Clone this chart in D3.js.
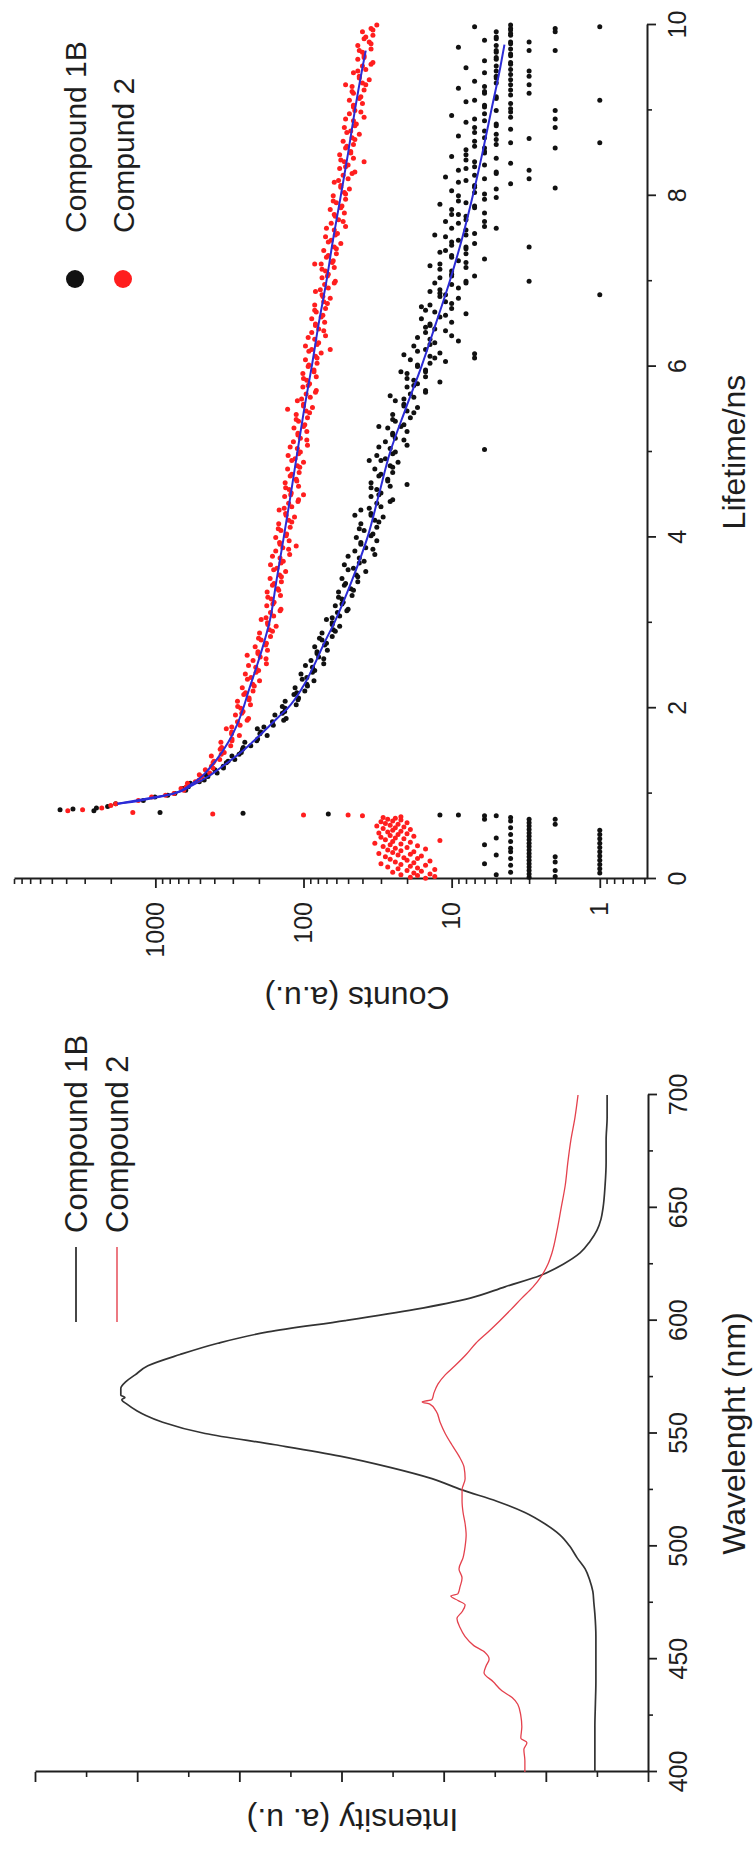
<!DOCTYPE html>
<html>
<head>
<meta charset="utf-8">
<script src="https://cdn.jsdelivr.net/npm/d3@7"></script>
<style>
  html, body { margin: 0; padding: 0; background: #fff; }
  svg { display: block; }
</style>
</head>
<body>
<svg id="fig" width="753" height="1854"></svg>
<script>
// ---------------- Emission spectra (wavelength nm, intensity a.u.) ----------------
const spectrum1B = [
  [400,0.104],[410,0.104],[420,0.104],[430,0.103],[440,0.102],[450,0.102],[460,0.102],[470,0.104],
  [475,0.106],[480,0.108],[485,0.114],[490,0.123],[495,0.139],[500,0.153],[505,0.172],[510,0.202],
  [515,0.241],[520,0.296],[525,0.364],[530,0.423],[535,0.505],[540,0.603],[545,0.730],[550,0.867],
  [555,0.950],[558,0.983],[560,1.000],[563,1.020],[565,1.030],[566,1.024],[567,1.032],[570,1.032],
  [573,1.022],[576,1.004],[580,0.979],[585,0.916],[590,0.842],[595,0.744],[600,0.593],[605,0.456],
  [610,0.348],[615,0.280],[620,0.211],[625,0.166],[630,0.133],[635,0.114],[640,0.100],[645,0.092],
  [650,0.088],[660,0.084],[670,0.082],[680,0.082],[690,0.080],[700,0.080]
];
const spectrum2 = [
  [400,0.241],[405,0.241],[410,0.243],[413,0.237],[415,0.249],[420,0.247],[425,0.249],[430,0.255],
  [433,0.266],[436,0.286],[440,0.303],[444,0.321],[447,0.317],[450,0.311],[453,0.319],[456,0.341],
  [460,0.358],[464,0.368],[468,0.374],[471,0.364],[474,0.358],[476,0.372],[478,0.386],[479,0.372],
  [482,0.368],[486,0.364],[490,0.370],[495,0.362],[500,0.358],[505,0.356],[510,0.358],[515,0.362],
  [520,0.364],[525,0.364],[530,0.358],[535,0.360],[540,0.370],[545,0.384],[550,0.397],[555,0.407],
  [560,0.415],[563,0.427],[564,0.442],[565,0.423],[568,0.419],[572,0.411],[576,0.397],[580,0.378],
  [585,0.356],[590,0.337],[595,0.313],[600,0.290],[605,0.268],[610,0.247],[615,0.225],[620,0.208],
  [625,0.196],[630,0.188],[640,0.178],[650,0.170],[660,0.162],[670,0.157],[680,0.151],[690,0.143],
  [700,0.137]
];
const waveTicks = [400, 450, 500, 550, 600, 650, 700];
const waveMinor = [425, 475, 525, 575, 625, 675];
const intensityTicks = [0, 0.2, 0.4, 0.6, 0.8, 1.0, 1.2];
const intensityMinor = [0.1, 0.3, 0.5, 0.7, 0.9, 1.1];
const spectrumLegend = ["Compound 1B", "Compound 2"];

// ---------------- Fluorescence decay (lifetime ns, counts) ----------------
const blackBackground = [
  [0.02,3],[0.06,3],[0.10,3],[0.14,3],[0.18,3],[0.22,3],[0.26,3],[0.30,3],[0.34,3],[0.38,3],[0.42,3],
  [0.46,3],[0.50,3],[0.54,3],[0.58,3],[0.62,3],[0.66,3],[0.70,3],
  [0.08,4],[0.16,4],[0.24,4],[0.32,4],[0.36,4],[0.44,4],[0.52,4],[0.60,4],[0.68,4],[0.72,4],
  [0.07,1],[0.12,1],[0.17,1],[0.22,1],[0.27,1],[0.32,1],[0.37,1],[0.42,1],[0.47,1],[0.52,1],[0.57,1],
  [0.03,2],[0.10,2],[0.20,2],[0.26,2],[0.64,2],[0.70,2],
  [0.05,5],[0.28,5],[0.48,5],[0.74,5],[0.18,6],[0.40,6],[0.70,6]
];
const blackRise = [
  [0.74,6],[0.75,9],[0.75,12],[0.76,68],[0.77,256],[0.78,930],[0.80,2600],[0.81,4400],[0.82,3600],
  [0.83,2500],[0.85,2100]
];
const blackDecay = [
  [0.88,1854],[0.92,1206],[0.96,1007],[1.00,739],[1.04,624],[1.08,599],[1.12,581],[1.16,468],[1.20,442],
  [1.24,383],[1.28,397],[1.32,348],[1.36,332],[1.40,291],[1.44,304],[1.48,263],[1.52,258],[1.56,227],
  [1.60,249],[1.64,204],[1.68,176],[1.72,194],[1.76,205],[1.80,160],[1.84,162],[1.88,131],[1.92,156],
  [1.96,134],[2.00,133],[2.04,112],[2.08,133],[2.12,108],[2.16,116],[2.20,98],[2.24,114],[2.28,95],
  [2.32,85],[2.36,95],[2.40,104],[2.44,84],[2.48,87],[2.52,73],[2.56,89],[2.60,79],[2.64,81],[2.68,69],
  [2.72,84],[2.76,70],[2.80,75],[2.84,64],[2.88,75],[2.92,63],[2.96,57],[3.00,64],[3.04,70],[3.08,57],
  [3.12,59],[3.16,50],[3.20,61],[3.24,54],[3.28,55],[3.32,47],[3.36,58],[3.40,48],[3.44,53],[3.48,43],
  [3.52,55],[3.56,44],[3.60,38],[3.64,46],[3.68,53],[3.72,39],[3.76,42],[3.80,33],[3.84,45],[3.88,38],
  [3.92,41],[3.96,32],[4.00,44],[4.04,34],[4.08,39],[4.12,32],[4.16,41],[4.20,33],[4.24,29],[4.28,35],
  [4.32,41],[4.36,30],[4.40,32],[4.44,25],[4.48,35],[4.52,30],[4.56,32],[4.60,26],[4.64,35],[4.68,27],
  [4.72,31],[4.76,25],[4.80,33],[4.84,26],[4.88,23],[4.92,28],[4.96,32],[5.00,24],[5.04,26],[5.08,20],
  [5.12,28],[5.16,24],[5.20,25],[5.24,20],[5.28,27],[5.32,21],[5.36,24],[5.40,19],[5.44,25],[5.48,20],
  [5.52,17],[5.56,21],[5.60,24],[5.64,18],[5.68,19],[5.72,15],[5.76,20],[5.80,17],[5.84,18],[5.88,15],
  [5.92,20],[5.96,15],[6.00,17],[6.04,14],[6.08,19],[6.12,14],[6.16,12],[6.20,15],[6.24,18],[6.28,13],
  [6.32,14],[6.36,10],[6.40,15],[6.44,13],[6.48,14],[6.52,10],[6.56,16],[6.60,11],[6.64,13],[6.68,10],
  [6.72,14],[6.76,11],[6.80,9],[6.84,11],[6.88,14],[6.92,9],[6.96,10],[7.00,8],[7.04,12],[7.08,10],
  [7.12,10],[7.16,8],[7.20,12],[7.24,9],[7.28,10],[7.32,8],[7.36,11],[7.40,8],[7.44,7],[7.48,9],
  [7.52,11],[7.56,7],[7.60,8],[7.64,6],[7.68,9],[7.72,8],[7.76,8],[7.80,6],[7.84,10],[7.88,7],[7.92,8],
  [7.96,6],[8.00,9],[8.04,7],[8.08,5],[8.12,7],[8.16,9],[8.20,6],[8.24,7],[8.28,5],[8.32,8],[8.36,6],
  [8.40,7],[8.44,5],[8.48,8],[8.52,6],[8.56,6],[8.60,5],[8.64,7],[8.68,6],[8.72,5],[8.76,6],[8.80,7],
  [8.84,5],[8.88,6],[8.92,4],[8.96,6],[9.00,5],[9.04,6],[9.08,4],[9.12,7],[9.16,5],[9.20,6],[9.24,4],
  [9.28,6],[9.32,5],[9.36,4],[9.40,5],[9.44,6],[9.48,4],[9.52,5],[9.56,4],[9.60,5],[9.64,4],[9.68,5],
  [9.72,4],[9.76,5],[9.80,4],[9.84,5],[9.88,4],[9.92,5],[9.96,4],[10.00,4]
];
// second read of the same decay, between the channels above
const blackDecayB = [
  [0.98,825],[1.06,650],[1.14,505],[1.22,455],[1.30,347],[1.38,323],[1.46,272],[1.54,255],[1.62,207],
  [1.70,197],[1.78,185],[1.86,136],[1.94,139],[2.02,139],[2.10,109],[2.18,111],[2.26,94],[2.34,102],
  [2.42,87],[2.50,97],[2.58,73],[2.66,81],[2.74,72],[2.82,78],[2.90,61],[2.98,64],[3.06,64],[3.14,51],
  [3.22,55],[3.30,58],[3.38,46],[3.46,52],[3.54,43],[3.62,50],[3.70,42],[3.78,50],[3.86,34],[3.94,41],
  [4.02,35],[4.10,42],[4.18,31],[4.26,35],[4.34,36],[4.42,26],[4.50,31],[4.58,35],[4.66,27],[4.74,30],
  [4.82,25],[4.90,30],[4.98,25],[5.06,31],[5.14,21],[5.22,25],[5.30,22],[5.38,25],[5.46,18],[5.54,21],
  [5.62,21],[5.70,15],[5.78,18],[5.86,20],[5.94,15],[6.02,17],[6.10,13],[6.18,17],[6.26,14],[6.34,17],
  [6.42,11],[6.50,14],[6.58,12],[6.66,15],[6.74,10],[6.82,12],[6.90,12],[6.98,8],[7.06,10],[7.14,12],
  [7.22,8],[7.30,10],[7.38,8],[7.46,10],[7.54,8],[7.62,10],[7.70,6],[7.78,9],[7.86,7],[7.94,9],[8.02,6],
  [8.10,7],[8.18,8],[8.26,5],[8.34,7],[8.42,8],[8.50,6],[8.58,7],[8.66,5],[8.74,7],[8.82,5],[8.90,7],
  [8.98,4],[9.06,6],[9.14,5],[9.22,6],[9.30,4],[9.38,5],[9.46,5],[9.54,4],[9.62,5],[9.70,5],[9.78,4],
  [9.86,5],[9.94,4]
];
const blackTail = [
  [4.26,45],[4.62,20],[4.90,36],[5.03,6],[5.30,31],[5.66,26],[5.82,12],[5.94,22],[6.06,11],[6.10,7],
  [6.14,21],[6.15,7],[6.30,9],[6.46,15],[6.62,8],[6.70,16],[6.86,12],[6.98,13],[7.06,7],[7.18,14],
  [7.26,6],[7.34,12],[7.42,10],[7.54,13],[7.62,5],[7.70,11],[7.78,10],[7.90,12],[7.98,5],[8.06,10],
  [8.14,4],[8.22,11],[8.30,9],[8.38,4],[8.46,10],[8.54,8],[8.62,4],[8.70,9],[8.78,4],[8.86,8],[8.94,10],
  [9.02,4],[9.10,8],[9.18,4],[9.26,9],[9.34,7],[9.42,4],[9.50,8],[9.58,6],[9.66,4],[9.74,9],[9.82,6],
  [9.90,4],[9.98,7]
];
const blackLow = [
  [6.84,1],[8.62,1],[9.12,1],[9.98,1],
  [8.09,2],[8.56,2],[8.80,2],[8.90,2],[9.00,2],[9.70,2],[9.92,2],[9.96,2],
  [7.00,3],[7.40,3],[8.20,3],[8.30,3],[8.67,3],[9.20,3],[9.30,3],[9.40,3],[9.46,3],[9.70,3],[9.80,3]
];
const redBackground = [
  [0.01,15],[0.02,19],[0.03,13],[0.04,17],[0.05,22],[0.06,14],[0.07,18],[0.08,25],[0.09,16],[0.10,20],
  [0.11,13],[0.12,23],[0.13,17],[0.14,27],[0.15,19],[0.16,15],[0.17,22],[0.18,30],[0.19,18],[0.20,24],
  [0.21,14],[0.22,20],[0.23,26],[0.24,17],[0.25,21],[0.26,28],[0.27,16],[0.28,23],[0.29,19],[0.30,31],
  [0.31,25],[0.32,18],[0.33,22],[0.34,27],[0.35,15],[0.36,24],[0.37,20],[0.38,29],[0.39,17],[0.40,26],
  [0.41,22],[0.42,33],[0.43,19],[0.44,25],[0.45,12],[0.46,28],[0.47,21],[0.48,24],[0.49,30],[0.50,18],
  [0.51,26],[0.52,23],[0.53,20],[0.54,31],[0.55,27],[0.56,22],[0.57,25],[0.58,19],[0.59,29],[0.60,24],
  [0.61,21],[0.62,32],[0.63,26],[0.64,23],[0.65,28],[0.66,20],[0.67,30],[0.68,25],[0.69,22],[0.70,27],
  [0.71,24],[0.72,29]
];
const redRise = [
  [0.73,22],[0.74,40],[0.75,50],[0.75,100],[0.76,410],[0.78,1420],[0.80,3900],[0.81,3100],[0.83,2300],
  [0.86,2000]
];
const redDecay = [
  [0.88,1850],[0.92,1303],[0.96,1060],[1.00,749],[1.04,643],[1.08,619],[1.12,607],[1.16,507],[1.20,487],
  [1.24,430],[1.28,460],[1.32,418],[1.36,408],[1.40,368],[1.44,419],[1.48,343],[1.52,365],[1.56,310],
  [1.60,361],[1.64,304],[1.68,271],[1.72,305],[1.76,332],[1.80,268],[1.84,279],[1.88,235],[1.92,288],
  [1.96,256],[2.00,265],[2.04,228],[2.08,279],[2.12,233],[2.16,253],[2.20,219],[2.24,259],[2.28,220],
  [2.32,198],[2.36,226],[2.40,247],[2.44,201],[2.48,210],[2.52,178],[2.56,219],[2.60,196],[2.64,203],
  [2.68,175],[2.72,212],[2.76,178],[2.80,193],[2.84,167],[2.88,198],[2.92,170],[2.96,153],[3.00,175],
  [3.04,193],[3.08,159],[3.12,167],[3.16,142],[3.20,177],[3.24,158],[3.28,165],[3.32,143],[3.36,176],
  [3.40,149],[3.44,162],[3.48,141],[3.52,168],[3.56,145],[3.60,132],[3.64,151],[3.68,167],[3.72,137],
  [3.76,144],[3.80,124],[3.84,154],[3.88,138],[3.92,144],[3.96,125],[4.00,154],[4.04,130],[4.08,142],
  [4.12,123],[4.16,147],[4.20,126],[4.24,115],[4.28,132],[4.32,146],[4.36,120],[4.40,126],[4.44,108],
  [4.48,134],[4.52,121],[4.56,125],[4.60,108],[4.64,133],[4.68,112],[4.72,123],[4.76,107],[4.80,128],
  [4.84,110],[4.88,100],[4.92,114],[4.96,127],[5.00,105],[5.04,110],[5.08,94],[5.12,117],[5.16,105],
  [5.20,109],[5.24,95],[5.28,116],[5.32,98],[5.36,108],[5.40,94],[5.44,112],[5.48,96],[5.52,87],
  [5.56,100],[5.60,110],[5.64,90],[5.68,96],[5.72,82],[5.76,101],[5.80,91],[5.84,95],[5.88,82],
  [5.92,101],[5.96,85],[6.00,93],[6.04,81],[6.08,97],[6.12,83],[6.16,76],[6.20,88],[6.24,97],[6.28,79],
  [6.32,84],[6.36,71],[6.40,88],[6.44,79],[6.48,83],[6.52,72],[6.56,88],[6.60,74],[6.64,82],[6.68,71],
  [6.72,84],[6.76,73],[6.80,66],[6.84,75],[6.88,83],[6.92,68],[6.96,72],[7.00,61],[7.04,75],[7.08,68],
  [7.12,71],[7.16,62],[7.20,76],[7.24,63],[7.28,70],[7.32,60],[7.36,73],[7.40,62],[7.44,56],[7.48,65],
  [7.52,71],[7.56,59],[7.60,62],[7.64,52],[7.68,65],[7.72,58],[7.76,61],[7.80,53],[7.84,66],[7.88,55],
  [7.92,60],[7.96,52],[8.00,63],[8.04,53],[8.08,49],[8.12,56],[8.16,62],[8.20,50],[8.24,54],[8.28,45],
  [8.32,57],[8.36,50],[8.40,53],[8.44,46],[8.48,57],[8.52,48],[8.56,52],[8.60,46],[8.64,54],[8.68,47],
  [8.72,42],[8.76,48],[8.80,53],[8.84,44],[8.88,46],[8.92,39],[8.96,49],[9.00,45],[9.04,46],[9.08,40],
  [9.12,49],[9.16,41],[9.20,46],[9.24,39],[9.28,47],[9.32,40],[9.36,36],[9.40,42],[9.44,46],[9.48,38],
  [9.52,40],[9.56,34],[9.60,43],[9.64,39],[9.68,40],[9.72,35],[9.76,43],[9.80,36],[9.84,39],[9.88,34],
  [9.92,40],[9.96,35],[10.00,32]
];
const redDecayB = [
  [0.98,854],[1.06,671],[1.14,537],[1.22,505],[1.30,409],[1.38,402],[1.46,359],[1.54,357],[1.62,304],
  [1.70,306],[1.78,305],[1.86,240],[1.94,261],[2.02,278],[2.10,233],[2.18,246],[2.26,215],[2.34,239],
  [2.42,209],[2.50,235],[2.58,179],[2.66,203],[2.74,180],[2.82,201],[2.90,162],[2.98,174],[3.06,179],
  [3.14,144],[3.22,161],[3.30,174],[3.38,147],[3.46,158],[3.54,141],[3.62,159],[3.70,142],[3.78,162],
  [3.86,126],[3.94,145],[4.02,131],[4.10,148],[4.18,120],[4.26,131],[4.34,135],[4.42,109],[4.50,122],
  [4.58,132],[4.66,111],[4.74,120],[4.82,106],[4.90,120],[4.98,108],[5.06,123],[5.14,95],[5.22,109],
  [5.30,100],[5.38,112],[5.46,91],[5.54,100],[5.62,103],[5.70,83],[5.78,93],[5.86,100],[5.94,85],
  [6.02,92],[6.10,81],[6.18,92],[6.26,81],[6.34,93],[6.42,73],[6.50,83],[6.58,76],[6.66,84],[6.74,69],
  [6.82,74],[6.90,77],[6.98,62],[7.06,69],[7.14,75],[7.22,64],[7.30,68],[7.38,60],[7.46,68],[7.54,61],
  [7.62,70],[7.70,54],[7.78,62],[7.86,56],[7.94,63],[8.02,52],[8.10,56],[8.18,58],[8.26,47],[8.34,52],
  [8.42,56],[8.50,48],[8.58,51],[8.66,45],[8.74,51],[8.82,45],[8.90,52],[8.98,41],[9.06,46],[9.14,42],
  [9.22,47],[9.30,38],[9.38,42],[9.46,43],[9.54,35],[9.62,39],[9.70,42],[9.78,35],[9.86,38],[9.94,34]
];
const redStray = [[2.62,240],[3.90,112],[4.50,100],[5.50,128],[6.20,66],[7.20,84],[8.40,39],[9.30,52]];

// Fitted decay curves
const blackFit = [
  [0.88,1800],[0.92,1250],[0.96,950],[1.00,750],[1.10,560],[1.20,440],[1.30,365],[1.40,305],[1.50,258],
  [1.60,222],[1.75,180],[1.90,147],[2.00,128],[2.25,101],[2.50,85],[2.75,73],[3.00,62],[3.50,47],
  [4.00,37],[4.50,31],[5.00,26],[5.50,20.5],[6.00,16],[6.50,12.8],[7.00,10.3],[7.50,8.5],[8.00,7.2],
  [8.50,6.2],[9.00,5.4],[9.50,4.7],[9.77,4.4]
];
const redFit = [
  [0.88,1800],[0.92,1350],[0.96,1000],[1.00,760],[1.10,585],[1.20,485],[1.30,430],[1.40,385],[1.60,322],
  [1.80,282],[2.00,255],[2.20,235],[2.50,206],[2.75,186],[3.00,170],[3.50,152],[4.00,136],[4.50,122],
  [5.00,110],[5.50,99],[6.00,88],[6.50,79],[7.00,70],[7.50,63],[8.00,56],[8.50,50],[9.00,45],[9.50,40],
  [9.70,38]
];
const lifeTicks = [0, 2, 4, 6, 8, 10];
const lifeMinor = [1, 3, 5, 7, 9];
const countTicks = [1, 10, 100, 1000];
const countMinor = [0.5,0.6,0.7,0.8,0.9,2,3,4,5,6,7,8,9,20,30,40,50,60,70,80,90,
                    200,300,400,500,600,700,800,900,2000,3000,4000,5000,6000,7000,8000,9000];
const decayLegend = ["Compound 1B", "Compund 2"];

// ---------------- Drawing ----------------
const FONT = '"Liberation Sans", Arial, Helvetica, sans-serif';
const INK = "#1e1e1e";
const svg = d3.select("#fig");
// The figure is composed in landscape (1854 x 753) and turned a quarter turn
// anticlockwise onto the portrait page.
const FW = 1854;
const g = svg.append("g").attr("transform", `translate(0,${FW}) rotate(-90)`);

function styleAxis(sel, labelSize) {
  sel.attr("font-family", FONT).attr("font-size", labelSize);
  sel.select(".domain").attr("stroke", INK).attr("stroke-width", 2);
  sel.selectAll(".tick line").attr("stroke", INK).attr("stroke-width", 1.8);
  sel.selectAll(".tick text").attr("fill", INK);
}
function minorAxis(parent, axis, transform) {
  const a = parent.append("g").attr("transform", transform).call(axis);
  a.select(".domain").remove();
  a.selectAll(".tick line").attr("stroke", INK).attr("stroke-width", 1.6);
  a.selectAll(".tick text").remove();
  return a;
}

// ---- Left panel: emission spectra ----
const xWave = d3.scaleLinear().domain([400, 700]).range([82, 759]);
const yInt = d3.scaleLinear().domain([0, 1.2]).range([648, 35]);

const spec = g.append("g");
spec.append("g").attr("transform", `translate(0,${yInt(0)})`)
  .call(d3.axisBottom(xWave).tickValues(waveTicks).tickFormat(d3.format("d"))
        .tickSize(9).tickPadding(12).tickSizeOuter(0))
  .call(s => styleAxis(s, 25));
minorAxis(spec, d3.axisBottom(xWave).tickValues(waveMinor).tickSize(5), `translate(0,${yInt(0)})`);
spec.append("g").attr("transform", `translate(${xWave(400)},0)`)
  .call(d3.axisLeft(yInt).tickValues(intensityTicks).tickFormat("").tickSize(10).tickSizeOuter(0))
  .call(s => styleAxis(s, 25));
minorAxis(spec, d3.axisLeft(yInt).tickValues(intensityMinor).tickSize(5), `translate(${xWave(400)},0)`);

const specLine = d3.line().x(d => xWave(d[0])).y(d => yInt(d[1])).curve(d3.curveMonotoneX);
spec.append("path").datum(spectrum1B).attr("d", specLine)
  .attr("fill", "none").attr("stroke", "#333").attr("stroke-width", 1.7);
spec.append("path").datum(spectrum2).attr("d", specLine)
  .attr("fill", "none").attr("stroke", "#e4414d").attr("stroke-width", 1.3);

spec.append("text").attr("x", (xWave(400) + xWave(700)) / 2).attr("y", 745)
  .attr("text-anchor", "middle").attr("font-family", FONT).attr("font-size", 32).attr("fill", INK)
  .text("Wavelenght (nm)");
spec.append("text").attr("transform", `translate(45,${(yInt(0) + yInt(1.2)) / 2 + 11}) rotate(-90)`)
  .attr("text-anchor", "middle").attr("font-family", FONT).attr("font-size", 32).attr("fill", INK)
  .text("Intensity (a. u.)");

const specLegendColors = ["#333", "#e4414d"];
const specLeg = spec.append("g");
spectrumLegend.forEach((name, i) => {
  const yy = 76 + i * 41;
  specLeg.append("line").attr("x1", 532).attr("x2", 607).attr("y1", yy).attr("y2", yy)
    .attr("stroke", specLegendColors[i]).attr("stroke-width", i ? 1.4 : 1.8);
  specLeg.append("text").attr("x", 621).attr("y", yy).attr("dy", "0.36em")
    .attr("font-family", FONT).attr("font-size", 31).attr("fill", INK).text(name);
});

// ---- Right panel: fluorescence decay ----
const xLife = d3.scaleLinear().domain([0, 10]).range([975, 1829]);
const yCount = d3.scaleLog().domain([0.48, 9000]).range([647, 14]);

const dec = g.append("g");
dec.append("g").attr("transform", `translate(0,${yCount(0.48)})`)
  .call(d3.axisBottom(xLife).tickValues(lifeTicks).tickFormat(d3.format("d"))
        .tickSize(9).tickPadding(12).tickSizeOuter(0))
  .call(s => styleAxis(s, 25));
minorAxis(dec, d3.axisBottom(xLife).tickValues(lifeMinor).tickSize(5), `translate(0,${yCount(0.48)})`);
dec.append("g").attr("transform", `translate(${xLife(0)},0)`)
  .call(d3.axisLeft(yCount).tickValues(countTicks).tickFormat(d3.format("d"))
        .tickSize(9).tickPadding(14).tickSizeOuter(0))
  .call(s => styleAxis(s, 25));
minorAxis(dec, d3.axisLeft(yCount).tickValues(countMinor).tickSize(5), `translate(${xLife(0)},0)`);

const dotR = 2.5;
const blackSets = [blackBackground, blackRise, blackDecay, blackDecayB, blackTail, blackLow];
const redSets = [redBackground, redRise, redDecay, redDecayB, redStray];
const dots = dec.append("g");
blackSets.forEach(set => {
  dots.append("g").selectAll("circle").data(set).join("circle")
    .attr("cx", d => xLife(d[0])).attr("cy", d => yCount(d[1])).attr("r", dotR).attr("fill", "#111");
});
redSets.forEach(set => {
  dots.append("g").selectAll("circle").data(set).join("circle")
    .attr("cx", d => xLife(d[0])).attr("cy", d => yCount(d[1])).attr("r", dotR).attr("fill", "#ff1e1e");
});

const fitLine = d3.line().x(d => xLife(d[0])).y(d => yCount(d[1])).curve(d3.curveMonotoneX);
[blackFit, redFit].forEach(f => {
  dec.append("path").datum(f).attr("d", fitLine)
    .attr("fill", "none").attr("stroke", "#2b2bd6").attr("stroke-width", 2);
});

dec.append("text").attr("x", (xLife(0) + xLife(10)) / 2).attr("y", 745)
  .attr("text-anchor", "middle").attr("font-family", FONT).attr("font-size", 32).attr("fill", INK)
  .text("Lifetime/ns");
dec.append("text").attr("transform", `translate(867,357) rotate(-90)`)
  .attr("text-anchor", "middle").attr("font-family", FONT).attr("font-size", 32).attr("fill", INK)
  .text("Counts (a.u.)");

const decLegendColors = ["#111", "#ff1e1e"];
decayLegend.forEach((name, i) => {
  const yy = 75 + i * 48;
  dec.append("circle").attr("cx", 1575).attr("cy", yy).attr("r", 9).attr("fill", decLegendColors[i]);
  dec.append("text").attr("x", 1621).attr("y", yy).attr("dy", "0.36em")
    .attr("font-family", FONT).attr("font-size", 30).attr("fill", INK).text(name);
});
</script>
</body>
</html>
